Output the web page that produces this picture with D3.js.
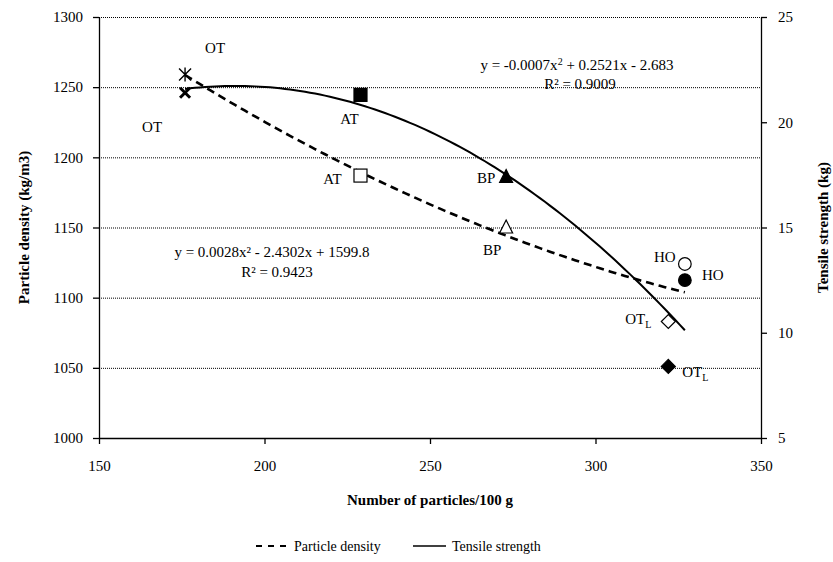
<!DOCTYPE html>
<html><head><meta charset="utf-8">
<script src="https://cdn.jsdelivr.net/npm/d3@7"></script>
<style>
body{margin:0;background:#fff;}
text{font-family:"Liberation Serif","Times New Roman",serif;fill:#000;}
</style></head>
<body><svg id="c" width="833" height="562"></svg>
<script>
// ---- data ----
const samples = ["OT","AT","BP","HO","OT_L"];
const particles = [176, 229, 273, 327, 322];
const densityVals = [1259, 1187, 1150, 1124, 1083];
const tensileVals = [21.4, 21.3, 17.4, 12.5, 8.4];
const xTicks = [150, 200, 250, 300, 350];
const densityTicks = [1000, 1050, 1100, 1150, 1200, 1250, 1300];
const tensileTicks = [5, 10, 15, 20, 25];
const densityEq = ["y = 0.0028x² - 2.4302x + 1599.8", "R² = 0.9423"];
const tensileEq = ["y = -0.0007x", "2", " + 0.2521x - 2.683", "R² = 0.9009"];
const legendNames = ["Particle density", "Tensile strength"];

const FONT = "Liberation Serif, Times New Roman, serif";
const svg = d3.select("#c");
const L = 99, R = 761, T = 17, B = 438;
const x = d3.scaleLinear().domain([150, 350]).range([L, R]);
const yL = d3.scaleLinear().domain([1000, 1300]).range([B, T]);
const yR = d3.scaleLinear().domain([5, 25]).range([B, T]);
const fmt = d3.format("d");

// gridlines
svg.append("g").selectAll("line").data(densityTicks.filter(d => d > 1000)).join("line")
  .attr("x1", L).attr("x2", R).attr("y1", d => yL(d) + 0.5).attr("y2", d => yL(d) + 0.5)
  .attr("stroke", "#000").attr("stroke-width", 1).attr("stroke-dasharray", "1,1");

function styleAxis(g) {
  g.attr("font-family", FONT).attr("font-size", 15);
  g.selectAll("path").attr("stroke", "#000").attr("stroke-width", 1.3);
  g.selectAll("line").attr("stroke", "#000").attr("stroke-width", 1.3);
  g.selectAll("text").attr("font-size", 15).attr("font-family", FONT);
}
svg.append("g").attr("transform", `translate(${L},0)`)
  .call(d3.axisLeft(yL).tickValues(densityTicks).tickFormat(fmt).tickSize(6).tickSizeOuter(0).tickPadding(10))
  .call(styleAxis);
svg.append("g").attr("transform", `translate(${R},0)`)
  .call(d3.axisRight(yR).tickValues(tensileTicks).tickFormat(fmt).tickSize(6).tickSizeOuter(0).tickPadding(11))
  .call(styleAxis);
svg.append("g").attr("transform", `translate(0,${B})`)
  .call(d3.axisBottom(x).tickValues(xTicks).tickFormat(fmt).tickSize(6).tickSizeOuter(0).tickPadding(16))
  .call(styleAxis);

// axis titles
svg.append("text").attr("transform", `translate(24,${(T + B) / 2}) rotate(-90)`)
  .attr("text-anchor", "middle").attr("dy", "0.35em").attr("font-weight", "bold").attr("font-size", 15)
  .attr("font-family", FONT).text("Particle density (kg/m3)");
svg.append("text").attr("transform", `translate(823,${(T + B) / 2}) rotate(-90)`)
  .attr("text-anchor", "middle").attr("dy", "0.35em").attr("font-weight", "bold").attr("font-size", 15)
  .attr("font-family", FONT).text("Tensile strength (kg)");
svg.append("text").attr("x", (L + R) / 2).attr("y", 500).attr("dy", "0.35em")
  .attr("text-anchor", "middle").attr("font-weight", "bold").attr("font-size", 15)
  .attr("font-family", FONT).text("Number of particles/100 g");

// quadratic least squares fit (trendlines)
function quadFit(xs, ys) {
  let S = Array.from({length: 3}, () => [0, 0, 0, 0]);
  xs.forEach((xv, i) => {
    const p = [1, xv, xv * xv];
    for (let r = 0; r < 3; r++) { for (let c = 0; c < 3; c++) S[r][c] += p[r] * p[c]; S[r][3] += p[r] * ys[i]; }
  });
  for (let i = 0; i < 3; i++) {
    let m = i; for (let k = i + 1; k < 3; k++) if (Math.abs(S[k][i]) > Math.abs(S[m][i])) m = k;
    [S[i], S[m]] = [S[m], S[i]];
    for (let k = 0; k < 3; k++) if (k !== i) { const f = S[k][i] / S[i][i]; for (let c = i; c < 4; c++) S[k][c] -= f * S[i][c]; }
  }
  const c = S.map((r, i) => r[3] / r[i]);
  return v => c[0] + c[1] * v + c[2] * v * v;
}
const xmin = d3.min(particles), xmax = d3.max(particles);
const xs = d3.range(xmin, xmax + 0.01, (xmax - xmin) / 100);
const fD = quadFit(particles, densityVals), fT = quadFit(particles, tensileVals);
svg.append("path").datum(xs).attr("fill", "none").attr("stroke", "#000").attr("stroke-width", 2.6)
  .attr("stroke-dasharray", "8,5")
  .attr("d", d3.line().x(d => x(d)).y(d => yL(fD(d))));
svg.append("path").datum(xs).attr("fill", "none").attr("stroke", "#000").attr("stroke-width", 2)
  .attr("d", d3.line().x(d => x(d)).y(d => yR(fT(d))));

// markers
function marker(g, type, filled, cx, cy) {
  const s = 6.5;
  const fill = filled ? "#000" : "#fff";
  if (type === "OT" && !filled) {
    g.append("path").attr("d", `M${cx - 6},${cy - 6}L${cx + 6},${cy + 6}M${cx - 6},${cy + 6}L${cx + 6},${cy - 6}M${cx},${cy - 7}L${cx},${cy + 7}`)
      .attr("stroke", "#000").attr("stroke-width", 1.4);
  } else if (type === "OT") {
    g.append("path").attr("d", `M${cx - 5},${cy - 5}L${cx + 5},${cy + 5}M${cx - 5},${cy + 5}L${cx + 5},${cy - 5}`)
      .attr("stroke", "#000").attr("stroke-width", 3);
  } else if (type === "AT") {
    g.append("rect").attr("x", cx - s).attr("y", cy - s).attr("width", 2 * s).attr("height", 2 * s)
      .attr("fill", fill).attr("stroke", "#000").attr("stroke-width", 1.2);
  } else if (type === "BP") {
    g.append("path").attr("d", `M${cx},${cy - 7.5}L${cx + 6.5},${cy + 5.5}L${cx - 6.5},${cy + 5.5}Z`)
      .attr("fill", fill).attr("stroke", "#000").attr("stroke-width", 1.2);
  } else if (type === "HO") {
    g.append("circle").attr("cx", cx).attr("cy", cy).attr("r", 6.3)
      .attr("fill", fill).attr("stroke", "#000").attr("stroke-width", 1.2);
  } else {
    g.append("path").attr("d", `M${cx},${cy - 7}L${cx + 7},${cy}L${cx},${cy + 7}L${cx - 7},${cy}Z`)
      .attr("fill", fill).attr("stroke", "#000").attr("stroke-width", 1.2);
  }
}
const mg = svg.append("g");
samples.forEach((s, i) => {
  marker(mg, s, false, x(particles[i]), yL(densityVals[i]));
  marker(mg, s, true, x(particles[i]), yR(tensileVals[i]));
});

// point labels (offsets from each point)
const densOff = {OT: [30, -27], AT: [-28, 3], BP: [-14, 22], HO: [-20, -7], OT_L: [-30, -3]};
const tensOff = {OT: [-33, 34], AT: [-11, 24], BP: [-20, 1], HO: [28, -5], OT_L: [27, 5]};
function label(name, px, py) {
  const t = svg.append("text").attr("x", px).attr("y", py).attr("dy", "0.35em")
    .attr("text-anchor", "middle").attr("font-size", 15).attr("font-family", FONT);
  if (name === "OT_L") {
    t.append("tspan").text("OT");
    t.append("tspan").attr("font-size", 10).attr("dy", "0.45em").text("L");
  } else t.text(name);
}
samples.forEach((s, i) => {
  label(s, x(particles[i]) + densOff[s][0], yL(densityVals[i]) + densOff[s][1]);
  label(s, x(particles[i]) + tensOff[s][0], yR(tensileVals[i]) + tensOff[s][1]);
});

// equations
svg.append("text").attr("x", 272).attr("y", 252).attr("dy", "0.35em").attr("text-anchor", "middle")
  .attr("font-size", 15).attr("font-family", FONT).text(densityEq[0]);
svg.append("text").attr("x", 277).attr("y", 272).attr("dy", "0.35em").attr("text-anchor", "middle")
  .attr("font-size", 15).attr("font-family", FONT).text(densityEq[1]);
const te = svg.append("text").attr("x", 577).attr("y", 65).attr("dy", "0.35em").attr("text-anchor", "middle")
  .attr("font-size", 15).attr("font-family", FONT);
te.append("tspan").text(tensileEq[0]);
te.append("tspan").attr("font-size", 10).attr("dy", "-0.55em").text(tensileEq[1]);
te.append("tspan").attr("dy", "0.37em").text(tensileEq[2]);
svg.append("text").attr("x", 580).attr("y", 84).attr("dy", "0.35em").attr("text-anchor", "middle")
  .attr("font-size", 15).attr("font-family", FONT).text(tensileEq[3]);

// legend
const ly = 546;
const lg = svg.append("g");
lg.append("line").attr("x1", 256).attr("x2", 286).attr("y1", ly).attr("y2", ly)
  .attr("stroke", "#000").attr("stroke-width", 2.2).attr("stroke-dasharray", "6,6");
lg.append("text").attr("x", 294).attr("y", ly).attr("dy", "0.35em").attr("font-size", 14)
  .attr("font-family", FONT).text(legendNames[0]);
lg.append("line").attr("x1", 413).attr("x2", 446).attr("y1", ly).attr("y2", ly)
  .attr("stroke", "#000").attr("stroke-width", 1.5);
lg.append("text").attr("x", 452).attr("y", ly).attr("dy", "0.35em").attr("font-size", 14)
  .attr("font-family", FONT).text(legendNames[1]);
</script></body></html>
